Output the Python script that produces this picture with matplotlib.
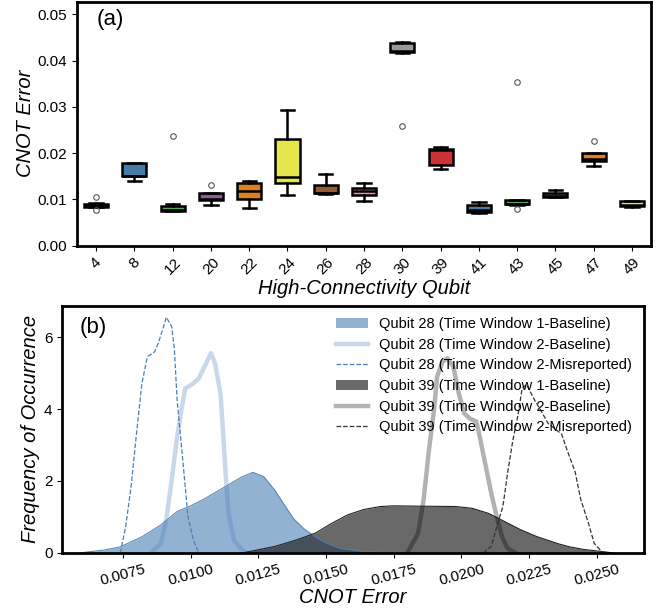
import matplotlib
matplotlib.use("Agg")
import matplotlib.pyplot as plt
import seaborn as sns

plt.rcParams['font.family'] = ['Liberation Sans', 'DejaVu Sans']

# ---- panel (a): box stats per qubit ----
qubits = ['4', '8', '12', '20', '22', '24', '26', '28', '30', '39', '41', '43', '45', '47', '49']
whislo = [0.0083, 0.0140, 0.0074, 0.0089, 0.0081, 0.0110, 0.0112, 0.0097, 0.0417, 0.0165, 0.0071, 0.0089, 0.0106, 0.0172, 0.0084]
q1 = [0.0084, 0.0150, 0.0074, 0.0099, 0.0101, 0.0135, 0.0113, 0.0110, 0.0418, 0.0175, 0.0073, 0.0090, 0.0106, 0.0184, 0.0086]
med = [0.0087, 0.0151, 0.0078, 0.0101, 0.0118, 0.0148, 0.0114, 0.0118, 0.0420, 0.0208, 0.0077, 0.0091, 0.0108, 0.0187, 0.0089]
q3 = [0.0091, 0.0179, 0.0085, 0.0113, 0.0135, 0.0231, 0.0131, 0.0125, 0.0438, 0.0210, 0.0087, 0.0098, 0.0115, 0.0200, 0.0096]
whishi = [0.0092, 0.0179, 0.0090, 0.0113, 0.0140, 0.0293, 0.0156, 0.0135, 0.0441, 0.0213, 0.0094, 0.0098, 0.0121, 0.0200, 0.0097]
fliers = [[0.0105, 0.0078], [], [0.0238], [0.0131], [], [], [], [], [0.0258], [], [], [0.0354, 0.0079], [], [0.0226], []]

# ---- panel (b): density curves ----
q28_w1_x = [0.0059, 0.0062, 0.0068, 0.0074, 0.0082, 0.0089, 0.0095, 0.0100, 0.0105, 0.0110, 0.0115, 0.0119,
            0.0123, 0.0127, 0.0131, 0.0135, 0.0138, 0.0142, 0.0146, 0.0149, 0.0155, 0.0164, 0.0177]
q28_w1_y = [0.0, 0.03, 0.08, 0.17, 0.45, 0.78, 1.15, 1.31, 1.50, 1.72, 1.94, 2.12,
            2.24, 2.12, 1.75, 1.29, 0.95, 0.66, 0.45, 0.31, 0.13, 0.04, 0.0]
q28_w2_x = [0.0086, 0.0089, 0.0091, 0.0093, 0.0095, 0.0097, 0.0098, 0.0101, 0.0103, 0.0106, 0.01075,
            0.0109, 0.0111, 0.0112, 0.0113, 0.0114, 0.0116, 0.0119, 0.0121]
q28_w2_y = [0.05, 0.27, 0.92, 2.03, 3.23, 4.16, 4.57, 4.71, 4.85, 5.31, 5.55,
            5.27, 4.44, 3.32, 2.10, 1.10, 0.36, 0.08, 0.0]
q28_mis_x = [0.0074, 0.0076, 0.0078, 0.0080, 0.0082, 0.0084, 0.00867, 0.0088, 0.0090, 0.0091, 0.0093,
             0.0094, 0.0095, 0.00965, 0.0098, 0.0099, 0.0101, 0.0103]
q28_mis_y = [0.0, 0.73, 1.84, 3.32, 4.71, 5.45, 5.59, 5.82, 6.29, 6.55, 6.29,
             5.64, 4.25, 3.05, 1.84, 1.01, 0.36, 0.0]
q39_w1_x = [0.0119, 0.0131, 0.0139, 0.0146, 0.0152, 0.0158, 0.0164, 0.0170, 0.0175, 0.0185, 0.0198,
            0.0204, 0.0210, 0.0216, 0.0222, 0.0228, 0.0236, 0.0240, 0.0245, 0.0252, 0.0256]
q39_w1_y = [0.0, 0.18, 0.36, 0.55, 0.82, 1.06, 1.21, 1.29, 1.31, 1.30, 1.29,
            1.24, 1.10, 0.87, 0.64, 0.45, 0.25, 0.17, 0.10, 0.04, 0.0]
q39_w2_x = [0.0180, 0.0184, 0.0186, 0.0188, 0.0190, 0.0191, 0.0193, 0.01948, 0.0197, 0.0199,
            0.0201, 0.0203, 0.02055, 0.0207, 0.0209, 0.0211, 0.0213, 0.0215, 0.0217, 0.0220]
q39_w2_y = [0.0, 0.55, 1.47, 2.86, 4.06, 4.90, 5.31, 5.41, 5.18, 4.44,
            3.88, 3.74, 3.65, 3.14, 2.40, 1.66, 1.01, 0.45, 0.13, 0.0]
q39_mis_x = [0.0208, 0.0211, 0.02135, 0.02153, 0.02172, 0.0219, 0.02208, 0.02224, 0.0224, 0.0227,
             0.0229, 0.0232, 0.0237, 0.0239, 0.0242, 0.0244, 0.0247, 0.0249, 0.0252]
q39_mis_y = [0.0, 0.18, 0.85, 1.29, 2.3, 3.14, 3.8, 4.57, 4.68, 4.25,
             4.0, 3.6, 3.3, 2.86, 2.25, 1.5, 0.8, 0.27, 0.02]

legend_labels = ['Qubit 28 (Time Window 1-Baseline)', 'Qubit 28 (Time Window 2-Baseline)',
                 'Qubit 28 (Time Window 2-Misreported)', 'Qubit 39 (Time Window 1-Baseline)',
                 'Qubit 39 (Time Window 2-Baseline)', 'Qubit 39 (Time Window 2-Misreported)']

fig = plt.figure(figsize=(6.72, 6.08), dpi=100)
ax1 = fig.add_axes([0.1146, 0.5959, 0.8542, 0.4016])
ax2 = fig.add_axes([0.0927, 0.0905, 0.8656, 0.4067])

# panel (a)
pal = sns.color_palette("Set1", 9, desat=0.75)
stats = []
for i in range(len(qubits)):
    stats.append(dict(whislo=whislo[i], q1=q1[i], med=med[i], q3=q3[i], whishi=whishi[i],
                      fliers=fliers[i], label=qubits[i]))
lw = 1.8
bp = ax1.bxp(stats, positions=range(len(qubits)), widths=0.63, capwidths=0.35, patch_artist=True,
             boxprops=dict(edgecolor='black', linewidth=lw),
             whiskerprops=dict(color='black', linewidth=lw),
             capprops=dict(color='black', linewidth=lw),
             medianprops=dict(color='black', linewidth=lw),
             flierprops=dict(marker='o', markersize=4, markerfacecolor='none',
                             markeredgecolor='#555555', markeredgewidth=0.8))
for i, b in enumerate(bp['boxes']):
    b.set_facecolor(pal[i % 9])

ax1.set_xlim(-0.5, 14.5)
ax1.set_ylim(0, 0.0528)
ax1.set_yticks([0.0, 0.01, 0.02, 0.03, 0.04, 0.05])
ax1.set_yticklabels(['0.00', '0.01', '0.02', '0.03', '0.04', '0.05'])
ax1.set_xticks(range(len(qubits)))
ax1.set_xticklabels(qubits, rotation=45, ha='center')
ax1.tick_params(labelsize=11)
ax1.set_ylabel('CNOT Error', fontsize=14.5, fontstyle='italic', labelpad=2)
ax1.set_xlabel('High-Connectivity Qubit', fontsize=14.5, fontstyle='italic', labelpad=1)
ax1.text(0.034, 0.925, '(a)', transform=ax1.transAxes, fontsize=16, va='center', ha='left')
for s in ax1.spines.values():
    s.set_linewidth(2)

# panel (b)
blue = '#4a7fb5'
dark = '#222222'
ax2.fill_between(q28_w1_x, q28_w1_y, color=blue, alpha=0.6, linewidth=0, label=legend_labels[0])
ax2.plot(q28_w1_x, q28_w1_y, color=blue, lw=0.8, alpha=0.9)
ax2.plot(q28_w2_x, q28_w2_y, color=blue, lw=3.2, alpha=0.3, label=legend_labels[1])
ax2.plot(q28_mis_x, q28_mis_y, color=blue, lw=0.9, ls='--', label=legend_labels[2])
ax2.fill_between(q39_w1_x, q39_w1_y, color=dark, alpha=0.68, linewidth=0, label=legend_labels[3])
ax2.plot(q39_w1_x, q39_w1_y, color=dark, lw=0.8)
ax2.plot(q39_w2_x, q39_w2_y, color='black', lw=3.2, alpha=0.3, label=legend_labels[4])
ax2.plot(q39_mis_x, q39_mis_y, color='#333333', lw=0.9, ls='--', label=legend_labels[5])

ax2.set_xlim(0.00526, 0.02674)
ax2.set_ylim(0, 6.87)
ax2.set_xticks([0.0075, 0.0100, 0.0125, 0.0150, 0.0175, 0.0200, 0.0225, 0.0250])
ax2.set_xticklabels(['0.0075', '0.0100', '0.0125', '0.0150', '0.0175', '0.0200', '0.0225', '0.0250'],
                    rotation=15, ha='center')
ax2.set_yticks([0, 2, 4, 6])
ax2.tick_params(labelsize=11)
ax2.set_xlabel('CNOT Error', fontsize=14.5, fontstyle='italic', labelpad=0)
ax2.set_ylabel('Frequency of Occurrence', fontsize=14.5, fontstyle='italic', labelpad=3)
ax2.text(0.03, 0.91, '(b)', transform=ax2.transAxes, fontsize=16, va='center', ha='left')
for s in ax2.spines.values():
    s.set_linewidth(2)
ax2.legend(loc='upper right', frameon=False, fontsize=10.5, handlelength=2.2,
           labelspacing=0.45, borderaxespad=0.4)

fig.savefig('out.png', dpi=100)
